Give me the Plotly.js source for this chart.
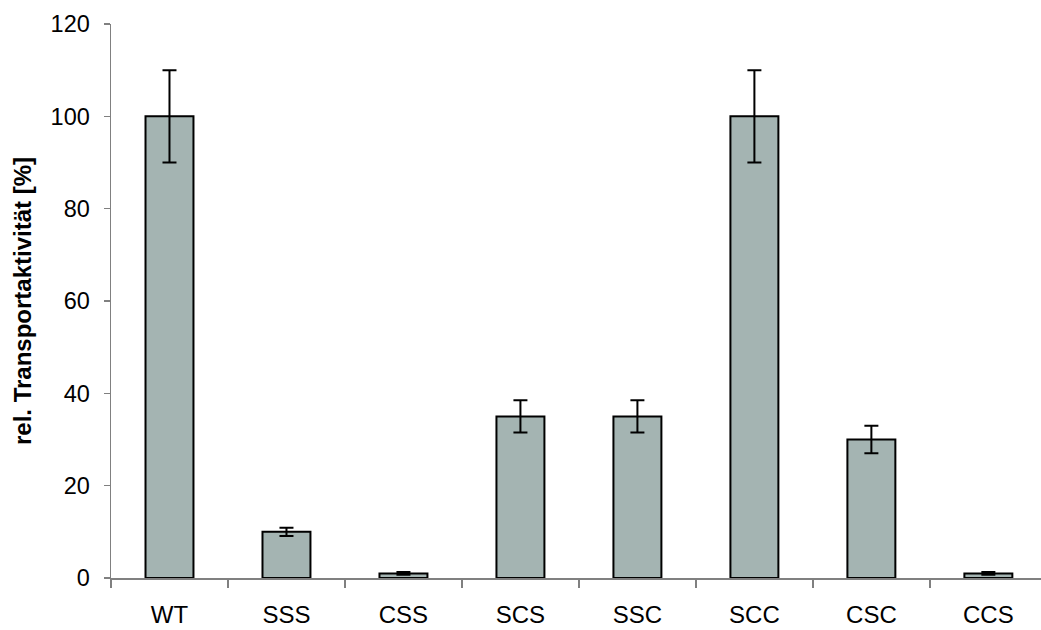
<!DOCTYPE html>
<html>
<head>
<meta charset="utf-8">
<script src="https://cdn.plot.ly/plotly-3.0.1.min.js"></script>
<style>
html,body{margin:0;padding:0;background:#fff;}
#chart{width:1041px;height:630px;}
</style>
</head>
<body>
<div id="chart"></div>
<script>
const categories = ["WT", "SSS", "CSS", "SCS", "SSC", "SCC", "CSC", "CCS"];
const activity = [100, 10, 1, 35, 35, 100, 30, 1];
const errors = [10, 0.9, 0.3, 3.5, 3.5, 10, 3, 0.3];
const yTicks = [0, 20, 40, 60, 80, 100, 120];

const trace = {
  type: "bar",
  x: categories,
  y: activity,
  width: 0.41,
  marker: {color: "#a4b4b2", line: {color: "#000000", width: 2}},
  error_y: {type: "data", array: errors, visible: true, color: "#000000", thickness: 2, width: 7},
  hoverinfo: "none"
};

const layout = {
  width: 1041,
  height: 630,
  margin: {l: 111, r: 0, t: 24, b: 52},
  paper_bgcolor: "#ffffff",
  plot_bgcolor: "#ffffff",
  showlegend: false,
  font: {family: "Liberation Sans, Arial, sans-serif", size: 23, color: "#000000"},
  xaxis: {
    type: "category",
    range: [-0.5, 7.45],
    showline: true,
    linecolor: "#808080",
    linewidth: 1.5,
    ticks: "outside",
    tickson: "boundaries",
    ticklen: 8,
    tickwidth: 1.5,
    tickcolor: "#808080",
    showgrid: false,
    zeroline: false,
    ticklabelstandoff: 15,
    tickfont: {size: 24, color: "#000000"},
    fixedrange: true
  },
  yaxis: {
    range: [0, 120],
    tickvals: yTicks,
    ticktext: yTicks.map(String),
    showline: true,
    linecolor: "#808080",
    linewidth: 1.5,
    ticks: "outside",
    ticklen: 6,
    tickwidth: 1.5,
    tickcolor: "#808080",
    showgrid: false,
    zeroline: false,
    ticklabelstandoff: 9,
    tickfont: {size: 23.5, color: "#000000"},
    title: {text: "rel. Transportaktivität [%]", font: {size: 24, color: "#000000", family: "Liberation Sans, Arial, sans-serif", weight: "bold"}, standoff: 12},
    fixedrange: true
  }
};

Plotly.newPlot("chart", [trace], layout, {displayModeBar: false, staticPlot: true});
</script>
</body>
</html>
